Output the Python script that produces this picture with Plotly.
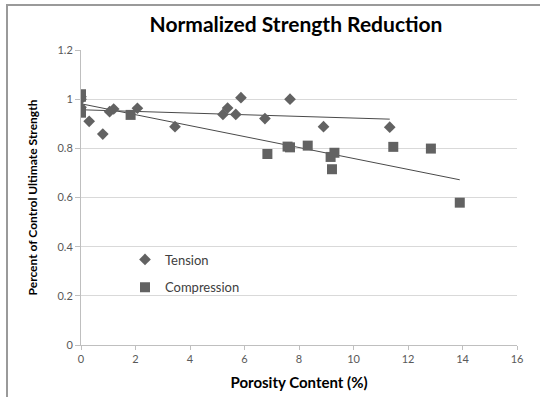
import numpy as np
import plotly.graph_objects as go

# Data
tension_x = [0.0, 0.0, 0.0, 0.30, 0.80, 1.05, 1.20, 2.07, 3.45, 5.21, 5.38, 5.68, 5.87, 6.75, 7.67, 8.90, 11.33]
tension_y = [0.967, 1.000, 1.010, 0.910, 0.858, 0.949, 0.960, 0.963, 0.888, 0.938, 0.964, 0.938, 1.006, 0.921, 1.000, 0.888, 0.886]

compression_x = [0.0, 0.0, 0.0, 1.82, 6.84, 7.58, 7.67, 8.32, 9.16, 9.21, 9.30, 11.46, 12.84, 13.90]
compression_y = [1.020, 1.010, 0.945, 0.936, 0.777, 0.807, 0.804, 0.811, 0.765, 0.715, 0.782, 0.806, 0.799, 0.579]

x_ticks = [0, 2, 4, 6, 8, 10, 12, 14, 16]
y_ticks = [0, 0.2, 0.4, 0.6, 0.8, 1.0, 1.2]
y_tick_text = ["0", "0.2", "0.4", "0.6", "0.8", "1", "1.2"]

GREY = "#626262"
LINE = "#4a4a4a"
FONT = "Lato"

def trend(xs, ys):
    xs = np.asarray(xs, float)
    ys = np.asarray(ys, float)
    m, b = np.polyfit(xs, ys, 1)
    xe = np.array([xs.min(), xs.max()])
    return xe, m * xe + b

fig = go.Figure()

tx, ty = trend(tension_x, tension_y)
cx, cy = trend(compression_x, compression_y)

fig.add_trace(go.Scatter(x=tx, y=ty, mode="lines", line=dict(color=LINE, width=1),
                         showlegend=False, hoverinfo="skip"))
fig.add_trace(go.Scatter(x=cx, y=cy, mode="lines", line=dict(color=LINE, width=1),
                         showlegend=False, hoverinfo="skip"))

fig.add_trace(go.Scatter(x=tension_x, y=tension_y, mode="markers", name="Tension",
                         legendgroup="t",
                         marker=dict(symbol="diamond", size=9, color=GREY)))
fig.add_trace(go.Scatter(x=compression_x, y=compression_y, mode="markers", name="Compression",
                         legendgroup="c",
                         marker=dict(symbol="square", size=10, color=GREY)))

# Plot area: x 81..517, y 50..345 px
L, R, T, B = 81, 23, 50, 52
W, H = 540, 397
pw, ph = W - L - R, H - T - B
def px_x(p):
    return (p - L) / pw
def px_y(p):
    return (H - B - p) / ph

frame = dict(color="#9a9a9a", width=2)
fig.add_shape(type="line", xref="paper", yref="paper", layer="above",
              x0=px_x(7), x1=px_x(7), y0=px_y(420), y1=px_y(4), line=frame)
fig.add_shape(type="line", xref="paper", yref="paper", layer="above",
              x0=px_x(6), x1=px_x(560), y0=px_y(5), y1=px_y(5), line=frame)

fig.update_layout(
    width=W, height=H,
    margin=dict(l=L, r=R, t=T, b=B, autoexpand=False),
    paper_bgcolor="white", plot_bgcolor="white",
    font=dict(family=FONT, color="#595959", size=11),
    title=dict(text="<b>Normalized Strength Reduction</b>", x=(296) / W, xanchor="center",
               y=1 - 25 / H, yanchor="middle",
               font=dict(family=FONT, size=21, color="#000000")),
    legend=dict(x=px_x(125), y=px_y(244.5), xanchor="left", yanchor="top",
                bgcolor="rgba(0,0,0,0)", font=dict(family=FONT, size=13, color="#404040"),
                tracegroupgap=8, traceorder="grouped", itemwidth=30),
    xaxis=dict(range=[0, 16], tickvals=x_ticks, showgrid=False, zeroline=False,
               showline=True, linecolor="#bfbfbf", linewidth=1,
               ticks="outside", ticklen=4, tickcolor="#bfbfbf",
               tickfont=dict(family=FONT, size=11, color="#595959"),
               title=dict(text="<b>Porosity Content (%)</b>", standoff=13,
                          font=dict(family=FONT, size=15, color="#000000"))),
    yaxis=dict(range=[0, 1.2], tickvals=y_ticks, ticktext=y_tick_text,
               showgrid=True, gridcolor="#d9d9d9", gridwidth=1, zeroline=False,
               showline=True, linecolor="#bfbfbf", linewidth=1,
               ticks="outside", ticklen=5, tickcolor="#bfbfbf",
               tickfont=dict(family=FONT, size=11, color="#595959"),
               title=dict(text="<b>Percent of Control Ultimate Strength</b>", standoff=17,
                          font=dict(family=FONT, size=12, color="#000000"))),
)

fig.write_html("out.html", config={"displayModeBar": False},
               post_script="document.body.style.margin='0px';")
